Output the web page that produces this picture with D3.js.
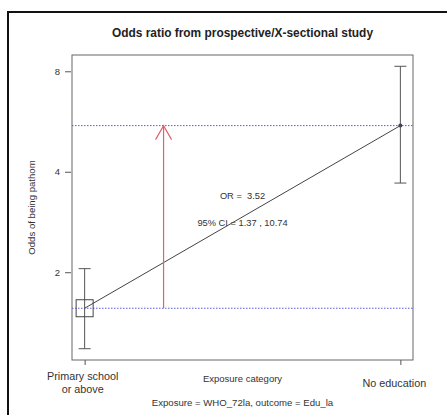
<!DOCTYPE html>
<html>
<head>
<meta charset="utf-8">
<script src="https://cdn.jsdelivr.net/npm/d3@7"></script>
<style>
  body { margin: 0; background: #fff; }
  svg { font-family: "Liberation Sans", Arial, sans-serif; }
  text { white-space: pre; }
</style>
</head>
<body>
<svg id="chart" width="447" height="415"></svg>
<script>
// Data
const categories = ["Primary school\nor above", "No education"];
const odds = [1.56, 5.50];
const ciLower = [1.18, 3.70];
const ciUpper = [2.05, 8.28];
const yTicks = [2, 4, 8];
const orText = "OR =  3.52";
const ciText = "95% CI = 1.37 , 10.74";

const svg = d3.select("#chart");

// Plot region
const margin = { top: 55, right: 34, bottom: 55, left: 72 };
const width = 447 - margin.left - margin.right;
const height = 415 - margin.top - margin.bottom;

// Outer frame (only left and top edges fall inside the window)
svg.append("rect")
  .attr("x", 8).attr("y", 12)
  .attr("width", 460).attr("height", 430)
  .attr("fill", "none")
  .attr("stroke", "#111")
  .attr("stroke-width", 2);

const g = svg.append("g")
  .attr("transform", `translate(${margin.left},${margin.top})`);

// x: category index with R's 4% padding
const xScale = d3.scaleLinear()
  .domain([-0.04, 1.04])
  .range([0, width]);

// y: log scale with 4% padding in log space
const lo = Math.log(d3.min(ciLower)), hi = Math.log(d3.max(ciUpper));
const pad = (hi - lo) * 0.04;
const yScale = d3.scaleLog()
  .domain([Math.exp(lo - pad), Math.exp(hi + pad)])
  .range([height, 0]);

// Plot box
g.append("rect")
  .attr("width", width).attr("height", height)
  .attr("fill", "none")
  .attr("stroke", "#666")
  .attr("stroke-width", 1);

// Y axis
const yAxis = d3.axisLeft(yScale)
  .tickValues(yTicks)
  .tickFormat(d3.format("d"))
  .tickSize(6)
  .tickPadding(5);
const yAxisG = g.append("g").attr("transform", "translate(-1,0)").call(yAxis);
yAxisG.select(".domain").remove();
yAxisG.selectAll("line").attr("stroke", "#555");
yAxisG.selectAll("text").attr("font-size", 9.5).attr("fill", "#333").attr("font-family", "Liberation Sans, Arial, sans-serif");

// X axis ticks
const xAxis = d3.axisBottom(xScale)
  .tickValues([0, 1])
  .tickFormat("")
  .tickSize(5);
const xAxisG = g.append("g").attr("transform", `translate(0,${height})`).call(xAxis);
xAxisG.select(".domain").remove();
xAxisG.selectAll("line").attr("stroke", "#555");

// Category labels
categories.forEach((c, i) => {
  const lines = c.split("\n");
  const lx = xScale(i) + (i === 0 ? -2 : -6);
  const t = g.append("text")
    .attr("x", lx)
    .attr("y", height + (lines.length > 1 ? 20 : 27))
    .attr("text-anchor", "middle")
    .attr("font-size", 10.8)
    .attr("fill", "#333");
  lines.forEach((l, j) => {
    t.append("tspan").attr("x", lx).attr("dy", j === 0 ? 0 : 13).text(l);
  });
});

// Reference lines at each odds
odds.forEach(o => {
  g.append("line")
    .attr("x1", 0).attr("x2", width)
    .attr("y1", yScale(o)).attr("y2", yScale(o))
    .attr("stroke", "#5a5ae0")
    .attr("stroke-width", 1)
    .attr("stroke-dasharray", "1.5,1.5");
});

// Error bars
categories.forEach((c, i) => {
  const x = xScale(i);
  g.append("line")
    .attr("x1", x).attr("x2", x)
    .attr("y1", yScale(ciLower[i])).attr("y2", yScale(ciUpper[i]))
    .attr("stroke", "#555");
  [ciLower[i], ciUpper[i]].forEach(v => {
    g.append("line")
      .attr("x1", x - 6).attr("x2", x + 6)
      .attr("y1", yScale(v)).attr("y2", yScale(v))
      .attr("stroke", "#555");
  });
});

// Line joining odds
g.append("path")
  .datum(odds)
  .attr("fill", "none")
  .attr("stroke", "#444")
  .attr("stroke-width", 1)
  .attr("d", d3.line().x((d, i) => xScale(i)).y(d => yScale(d)));

// Reference square and point
g.append("rect")
  .attr("x", xScale(0) - 8.5).attr("y", yScale(odds[0]) - 8.5)
  .attr("width", 17).attr("height", 17)
  .attr("fill", "none")
  .attr("stroke", "#444");
g.append("circle")
  .attr("cx", xScale(1)).attr("cy", yScale(odds[1]))
  .attr("r", 2)
  .attr("fill", "#445");

// Red arrow from reference odds to exposed odds
const ax = xScale(0.25);
const ay0 = yScale(odds[0]), ay1 = yScale(odds[1]);
const red = "#e0606c";
g.append("line")
  .attr("x1", ax).attr("x2", ax)
  .attr("y1", ay0).attr("y2", ay1)
  .attr("stroke", red).attr("stroke-width", 1.2);
g.append("path")
  .attr("d", `M${ax - 8},${ay1 + 14}L${ax},${ay1}L${ax + 8},${ay1 + 14}`)
  .attr("fill", "none")
  .attr("stroke", red).attr("stroke-width", 1.2);

// Annotations
const cx = xScale(0.5);
g.append("text")
  .attr("x", cx).attr("y", 144)
  .attr("text-anchor", "middle")
  .attr("font-size", 9.3).attr("fill", "#333")
  .text(orText);
g.append("text")
  .attr("x", cx).attr("y", 171)
  .attr("text-anchor", "middle")
  .attr("font-size", 9.3).attr("fill", "#333")
  .text(ciText);

// Title
svg.append("text")
  .attr("x", margin.left + width / 2).attr("y", 37)
  .attr("text-anchor", "middle")
  .attr("font-size", 11.9).attr("font-weight", "bold")
  .attr("fill", "#222")
  .text("Odds ratio from prospective/X-sectional study");

// Axis titles
svg.append("text")
  .attr("transform", `translate(35,${margin.top + height / 2}) rotate(-90)`)
  .attr("text-anchor", "middle")
  .attr("font-size", 9.6).attr("fill", "#333")
  .text("Odds of being pathom");
svg.append("text")
  .attr("x", margin.left + width / 2).attr("y", 382)
  .attr("text-anchor", "middle")
  .attr("font-size", 9.5).attr("fill", "#333")
  .text("Exposure category");
svg.append("text")
  .attr("x", margin.left + width / 2).attr("y", 406)
  .attr("text-anchor", "middle")
  .attr("font-size", 9.6).attr("fill", "#333")
  .text("Exposure = WHO_72la, outcome = Edu_la");
</script>
</body>
</html>
